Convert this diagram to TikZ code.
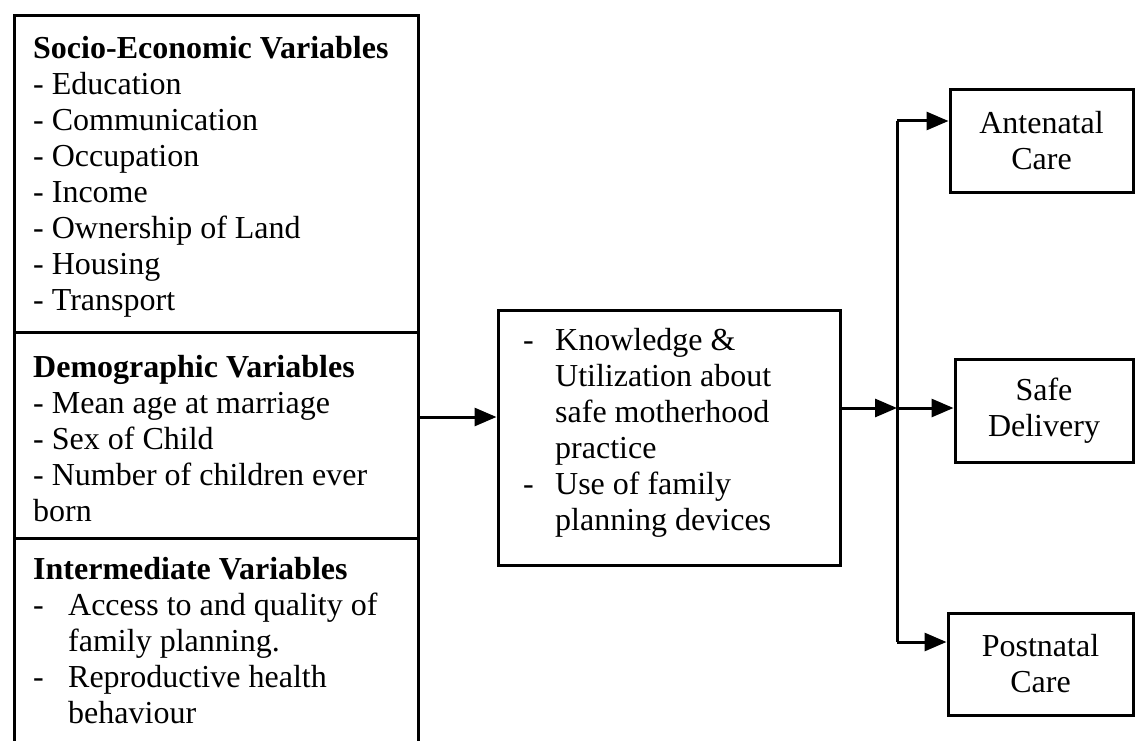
\documentclass[tikz,border=0pt]{standalone}
\usepackage{fontspec}
\setmainfont{Liberation Serif}
\usetikzlibrary{arrows.meta}
\begin{document}
\begin{tikzpicture}[x=1pt,y=-1pt,
  box/.style={draw, line width=3pt, rectangle, inner sep=0pt},
  txt/.style={inner sep=0pt, anchor=north west, align=left, font=\fontsize{32}{36}\selectfont},
  rtxt/.style={align=center, font=\fontsize{32}{36}\selectfont},
  conn/.style={line width=3pt},
  arr/.style={line width=3pt, -{Triangle[length=22pt,width=18pt]}}]
\useasboundingbox (0,0) rectangle (1135,741);
% left composite box
\node[box, minimum width=404pt, minimum height=316pt] (socio) at (216,174) {};
\node[box, minimum width=404pt, minimum height=206pt] (demo) at (216,435) {};
\node[box, minimum width=404pt, minimum height=212pt] (inter) at (216,644) {};
\node[txt] (sociot) at (33,36) {\textbf{Socio-Economic Variables}\\- Education\\- Communication\\- Occupation\\- Income\\- Ownership of Land\\- Housing\\- Transport};
\node[txt] (demot) at (33,355) {\textbf{Demographic Variables}\\- Mean age at marriage\\- Sex of Child\\- Number of children ever\\born};
\node[txt] (intert) at (33,557) {\textbf{Intermediate Variables}\\\makebox[35pt][l]{-}Access to and quality of\\\hspace*{35pt}family planning.\\\makebox[35pt][l]{-}Reproductive health\\\hspace*{35pt}behaviour};
% middle box
\node[box, minimum width=342pt, minimum height=255pt] (mid) at (669,437.5) {};
\node[txt] (midt) at (523,328) {\makebox[32pt][l]{-}Knowledge \&\\\hspace*{32pt}Utilization about\\\hspace*{32pt}safe motherhood\\\hspace*{32pt}practice\\\makebox[32pt][l]{-}Use of family\\\hspace*{32pt}planning devices};
% right boxes
\node[box, rtxt, minimum width=183pt, minimum height=102pt] (ante) at (1041.5,141) {Antenatal\\Care};
\node[box, rtxt, minimum width=178pt, minimum height=103pt] (safe) at (1044,410.5) {Safe\\Delivery};
\node[box, rtxt, minimum width=185pt, minimum height=102pt] (post) at (1040.5,664) {Postnatal\\Care};
% connectors
\coordinate (a0) at (418,417);
\coordinate (m0) at (840,408);
\coordinate (j1) at (897,121);
\coordinate (j2) at (897,408);
\coordinate (j3) at (897,642);
\draw[arr] (a0) -- (mid.west |- a0);
\draw[arr] (m0) -- (j2);
\draw[conn] (j1) -- (j3);
\draw[arr] (j1) -- (ante.west |- j1);
\draw[arr] (j2) -- (safe.west |- j2);
\draw[arr] (j3) -- (post.west |- j3);
\end{tikzpicture}
\end{document}
